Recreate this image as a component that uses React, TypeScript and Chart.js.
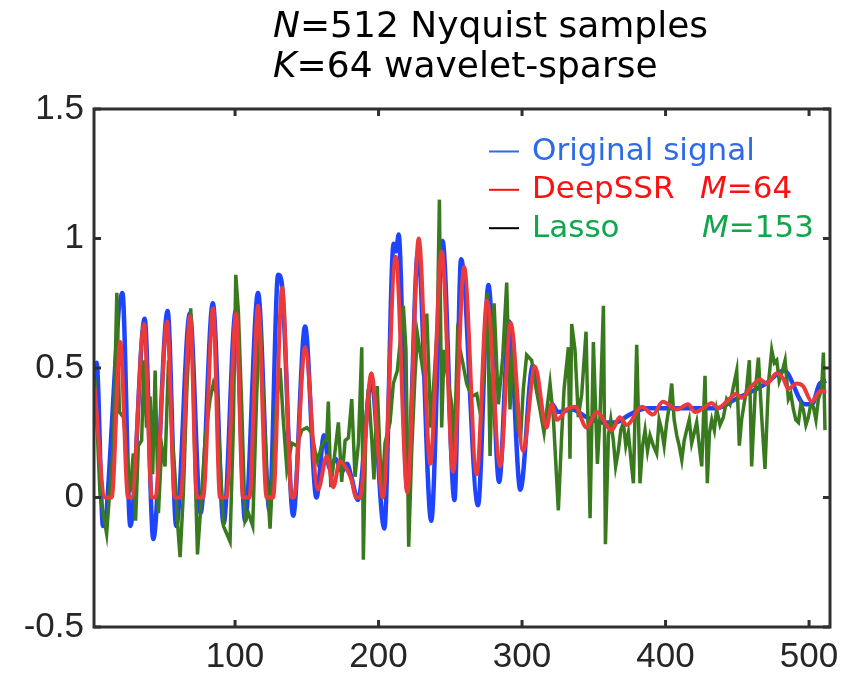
import React, { useEffect, useRef } from "react";
import { Chart, registerables } from "chart.js";
Chart.register(...registerables);

const xTickValues = [100, 200, 300, 400, 500];
const yTickValues = [-0.5, 0, 0.5, 1, 1.5];

const seriesLabels = ["Original signal", "DeepSSR", "Lasso"];

const originalX = [2, 3.5, 8, 21.5, 27, 37, 43, 53, 59, 68.5, 76, 84.5, 92, 100.5, 107, 116, 124, 130, 132.5, 140.5, 148.8, 156.7, 162, 166, 170, 174.5, 178, 181, 185.7, 195, 204, 210.5, 212.2, 214, 220, 227.5, 236.7, 244.6, 252.9, 257.5, 269.3, 276.6, 284, 291, 298.8, 307.5, 316, 321, 325, 335, 345, 355, 365, 375, 387, 436, 449, 470, 482.5, 497, 502, 507.5, 512];
const originalY = [0.45, 0.52, -0.11, 0.79, -0.11, 0.69, -0.16, 0.72, -0.11, 0.71, -0.06, 0.75, -0.1, 0.72, -0.09, 0.79, -0.05, 0.86, 0.83, -0.07, 0.66, 0.0, 0.24, 0.11, 0.15, 0.1, 0.13, 0.08, -0.01, 0.45, -0.12, 0.98, 0.95, 1.015, 0.03, 0.95, -0.09, 0.99, -0.01, 0.92, -0.03, 0.82, 0.06, 0.68, 0.03, 0.51, 0.3, 0.36, 0.33, 0.34, 0.31, 0.29, 0.29, 0.32, 0.345, 0.345, 0.38, 0.44, 0.49, 0.36, 0.36, 0.44, 0.45];

const deepX = [2, 9.5, 14, 20, 25.4, 28, 36.6, 42, 44.5, 52.6, 58, 62, 68.6, 73.5, 77.7, 84.7, 89.5, 94, 100.7, 105.6, 110, 116, 122, 126.5, 132.8, 139.5, 141, 148.8, 157.8, 164, 168.5, 173, 177.8, 181, 184.5, 187, 195, 203, 212, 220, 228, 236, 244, 252, 259.6, 268.4, 275.6, 284.7, 292, 300.7, 309, 317, 320.7, 324.4, 331, 337, 345, 352, 362.5, 368, 373, 383.4, 391.3, 398, 407.8, 415.7, 420.6, 427.5, 432, 436.6, 442.6, 449, 453, 460, 465.9, 470.5, 477.5, 482, 485.5, 491.4, 495.8, 501.9, 507.7, 512];
const deepY = [0.43, 0, 0, 0.6, 0, 0, 0.67, 0, 0, 0.68, 0, 0, 0.7, 0, 0, 0.73, 0, 0, 0.71, 0, 0, 0.74, 0, 0, 0.81, 0, 0, 0.58, 0.03, 0.16, 0.04, 0.14, 0.11, 0.07, 0, 0, 0.48, 0, 0.93, 0.02, 1.0, 0.13, 0.95, 0.1, 0.89, 0.09, 0.76, 0.12, 0.675, 0.18, 0.506, 0.27, 0.36, 0.3, 0.34, 0.35, 0.27, 0.33, 0.26, 0.31, 0.28, 0.35, 0.32, 0.37, 0.34, 0.36, 0.33, 0.35, 0.365, 0.345, 0.37, 0.4, 0.385, 0.43, 0.455, 0.44, 0.48, 0.46, 0.42, 0.44, 0.43, 0.37, 0.41, 0.41];

const lassoX = [2.4, 5.9, 10.5, 12.9, 15.2, 17.6, 19.4, 22.2, 24.5, 26.8, 29.1, 30.7, 32.6, 34.9, 36.5, 38.3, 40.8, 42.6, 44.3, 46.6, 48.9, 51.2, 53.6, 55.9, 58.2, 59.8, 61.7, 64, 66.3, 69.1, 70.5, 72.1, 73.8, 76.8, 79.1, 82.6, 84.9, 87.2, 89.5, 91.9, 94.2, 96.5, 98.8, 100.5, 102.3, 104.7, 107, 109.3, 112.3, 115.1, 117.4, 119.3, 122.1, 124.4, 126.7, 129, 131.4, 133.7, 136.1, 139.5, 143, 146.5, 150, 153.4, 155.7, 157.4, 160.4, 163.9, 165, 166.7, 169.7, 172, 174.3, 176.7, 179, 181.3, 183.6, 186, 188.3, 189.4, 191.3, 192.9, 195.2, 196.8, 199.1, 202.2, 204.5, 208, 210.3, 213.1, 215.4, 217.3, 219.1, 221, 223.1, 225.4, 227.1, 230.1, 233.6, 236.4, 239.4, 241, 242.4, 244, 245.6, 248.7, 251, 252.6, 255, 258.7, 261.4, 264.9, 268.4, 271.4, 273.5, 275.8, 277.7, 280.5, 283.5, 286.5, 289.3, 291.6, 293.9, 296.7, 299, 300.9, 303.2, 306.7, 309.1, 312.5, 315.3, 319.5, 321.8, 325.3, 327.6, 329.3, 332.3, 333.4, 334.6, 336.9, 339.2, 341.6, 344.6, 347.4, 349.7, 352.5, 354.3, 356.7, 358.1, 360.2, 361.8, 363.6, 365.2, 367.1, 368.8, 370.6, 372.3, 374.1, 375.8, 377.6, 379.9, 382.2, 384, 385.7, 387.4, 389.2, 391.5, 393.8, 395.5, 397.3, 399, 400.8, 402.5, 404.3, 406, 407.8, 409.5, 411.3, 413, 414.7, 416.5, 418.2, 420, 421.7, 423.5, 425.2, 427.5, 429.1, 430.6, 432.2, 434, 435.6, 438, 440.3, 442.6, 444.9, 447, 449.6, 451.4, 453, 454.7, 456.5, 458.4, 460, 462.4, 464.7, 467, 469.3, 471.7, 474, 475.8, 477.5, 479.2, 481, 483.3, 485.6, 487.3, 489.1, 490.8, 492.6, 494.3, 496, 497.8, 499.5, 501.2, 503, 504.8, 506.5, 508.8, 510, 511.1];
const lassoY = [0.46, 0.01, -0.14, 0.04, 0.2, 0.79, 0.33, 0.31, 0.17, 0.02, 0.17, -0.09, 0.2, 0.22, 0.53, 0.27, 0.39, 0.09, 0.49, -0.06, 0.2, 0.12, 0.53, 0.27, 0.08, -0.09, -0.23, 0.02, 0.4, 0.73, 0.53, 0.12, -0.22, 0.02, 0.22, 0.38, 0.44, 0.4, 0.15, -0.11, -0.14, -0.17, 0.27, 0.86, 0.72, 0.34, -0.09, -0.06, -0.11, 0.4, 0.71, 0.43, 0.08, -0.12, 0.15, 0.38, 0.5, 0.29, 0.11, 0.21, 0.2, 0.26, 0.27, 0.25, 0.18, 0.14, 0.2, 0.23, 0.37, 0.04, 0.18, 0.29, 0.06, 0.22, 0.23, 0.38, 0.08, 0.21, 0.58, -0.24, 0.31, 0.42, 0.23, 0.07, 0.43, 0.0, 0.21, 0.29, 0.44, 0.49, 0.62, 0.74, 0.57, -0.19, 0.18, 0.47, 0.63, 0.52, 0.71, 0.27, 0.52, 0.67, 1.15, 0.27, 0.57, 0.44, 0.36, 0.13, 0.62, 0.52, 0.44, 0.39, 0.4, 0.31, 0.51, 0.79, 0.16, 0.75, 0.36, 0.54, 0.83, 0.34, 0.62, 0.27, 0.23, 0.42, 0.55, 0.53, 0.44, 0.34, 0.25, 0.44, 0.31, -0.05, 0.24, 0.42, 0.58, 0.15, 0.67, 0.57, 0.31, 0.4, 0.64, -0.08, 0.6, 0.13, 0.31, 0.74, -0.18, 0.24, 0.3, 0.22, 0.12, 0.18, 0.26, 0.29, 0.2, 0.25, 0.15, 0.055, 0.59, 0.055, 0.2, 0.26, 0.18, 0.24, 0.2, 0.17, 0.3, 0.26, 0.2, 0.29, 0.35, 0.44, 0.3, 0.24, 0.2, 0.145, 0.22, 0.26, 0.3, 0.21, 0.25, 0.29, 0.2, 0.12, 0.47, 0.055, 0.25, 0.3, 0.26, 0.34, 0.28, 0.31, 0.38, 0.36, 0.42, 0.49, 0.2, 0.3, 0.36, 0.42, 0.53, 0.12, 0.4, 0.54, 0.31, 0.11, 0.44, 0.57, 0.52, 0.53, 0.45, 0.48, 0.53, 0.38, 0.4, 0.34, 0.3, 0.29, 0.36, 0.34, 0.28, 0.31, 0.36, 0.35, 0.3, 0.38, 0.42, 0.56, 0.26];

const toPoints = (xs: number[], ys: number[]) => xs.map((x, i) => ({ x, y: ys[i] }));

const AXIS_COLOR = "#303030";
const BLUE_LINE = "#1f44ff";
const RED_LINE = "#ec3a3c";
const GREEN_LINE = "#3a7a1e";
const BLUE_TEXT = "#2d6be6";
const RED_TEXT = "#ff1010";
const GREEN_TEXT = "#12a64c";

const boxPlugin = {
  id: "boxPlugin",
  afterDatasetsDraw(chart: any) {
    const { ctx, chartArea, scales } = chart;
    const { left, right, top, bottom } = chartArea;
    ctx.save();
    ctx.strokeStyle = AXIS_COLOR;
    ctx.lineWidth = 3;
    ctx.strokeRect(left, top, right - left, bottom - top);
    const len = 7;
    ctx.beginPath();
    xTickValues.forEach((v) => {
      const px = scales.x.getPixelForValue(v);
      ctx.moveTo(px, bottom);
      ctx.lineTo(px, bottom - len);
      ctx.moveTo(px, top);
      ctx.lineTo(px, top + len);
    });
    yTickValues.forEach((v) => {
      const py = scales.y.getPixelForValue(v);
      ctx.moveTo(left, py);
      ctx.lineTo(left + len, py);
      ctx.moveTo(right, py);
      ctx.lineTo(right - len, py);
    });
    ctx.stroke();
    ctx.restore();
  },
};

function drawParts(ctx: any, parts: { t: string; i?: boolean; c: string }[], x: number, y: number, size: number) {
  let cx = x;
  parts.forEach((p) => {
    ctx.font = `${p.i ? "italic " : ""}${size}px "DejaVu Sans"`;
    ctx.fillStyle = p.c;
    ctx.fillText(p.t, cx, y);
    cx += ctx.measureText(p.t).width;
  });
}

const textPlugin = {
  id: "textPlugin",
  afterDraw(chart: any) {
    const ctx = chart.ctx;
    ctx.save();
    ctx.textBaseline = "alphabetic";
    ctx.textAlign = "left";
    drawParts(ctx, [{ t: "N", i: true, c: "#000" }, { t: "=512 Nyquist samples", c: "#000" }], 273, 37, 36);
    drawParts(ctx, [{ t: "K", i: true, c: "#000" }, { t: "=64 wavelet-sparse", c: "#000" }], 273, 77, 36);
    const rows = [
      { base: 160, mark: BLUE_TEXT, color: BLUE_TEXT, label: seriesLabels[0], m: "", mx: 0 },
      { base: 198.3, mark: RED_TEXT, color: RED_TEXT, label: seriesLabels[1], m: "=64", mx: 700 },
      { base: 236.7, mark: "#000", color: GREEN_TEXT, label: seriesLabels[2], m: "=153", mx: 702 },
    ];
    rows.forEach((r) => {
      ctx.strokeStyle = r.mark;
      ctx.lineWidth = 2;
      ctx.beginPath();
      ctx.moveTo(489, r.base - 8.5);
      ctx.lineTo(519, r.base - 8.5);
      ctx.stroke();
      drawParts(ctx, [{ t: r.label, c: r.color }], 532, r.base, 31);
      if (r.m) {
        drawParts(ctx, [{ t: "M", i: true, c: r.color }, { t: r.m, c: r.color }], r.mx, r.base, 31);
      }
    });
    ctx.restore();
  },
};

export default function App() {
  const ref = useRef<HTMLCanvasElement>(null);
  useEffect(() => {
    if (!ref.current) return;
    const chart = new Chart(ref.current, {
      type: "scatter",
      data: {
        datasets: [
          {
            label: seriesLabels[1],
            data: toPoints(deepX, deepY),
            showLine: true,
            borderColor: RED_LINE,
            borderWidth: 4,
            pointRadius: 0,
            cubicInterpolationMode: "monotone",
            order: 0,
          },
          {
            label: seriesLabels[2],
            data: toPoints(lassoX, lassoY),
            showLine: true,
            borderColor: GREEN_LINE,
            borderWidth: 3.5,
            pointRadius: 0,
            tension: 0,
            order: 1,
          },
          {
            label: seriesLabels[0],
            data: toPoints(originalX, originalY),
            showLine: true,
            borderColor: BLUE_LINE,
            borderWidth: 4.5,
            pointRadius: 0,
            cubicInterpolationMode: "monotone",
            order: 2,
          },
        ],
      },
      options: {
        responsive: false,
        animation: false,
        devicePixelRatio: 1,
        layout: { padding: { top: 109, right: 26, left: 0, bottom: 0 } },
        plugins: { legend: { display: false }, title: { display: false }, tooltip: { enabled: false } },
        scales: {
          x: {
            type: "linear",
            min: 1.7,
            max: 514.6,
            grid: { display: false, drawTicks: false },
            border: { display: false },
            afterBuildTicks: (s: any) => {
              s.ticks = xTickValues.map((v) => ({ value: v }));
            },
            afterFit: (s: any) => {
              s.height = 48;
            },
            ticks: {
              color: "#262626",
              font: { family: "Liberation Sans", size: 35 },
              padding: 9,
              maxRotation: 0,
              autoSkip: false,
              callback: (v: any) => String(v),
            },
          },
          y: {
            type: "linear",
            min: -0.5,
            max: 1.5,
            grid: { display: false, drawTicks: false },
            border: { display: false },
            afterBuildTicks: (s: any) => {
              s.ticks = yTickValues.map((v) => ({ value: v }));
            },
            afterFit: (s: any) => {
              s.width = 94;
            },
            ticks: {
              color: "#262626",
              font: { family: "Liberation Sans", size: 35 },
              padding: 10,
              autoSkip: false,
              callback: (v: any) => String(v),
            },
          },
        },
      },
      plugins: [boxPlugin, textPlugin],
    });
    return () => chart.destroy();
  }, []);
  return (
    <div style={{ position: "absolute", left: 0, top: 0, width: 856, height: 675, background: "#fff" }}>
      <canvas ref={ref} width={856} height={675} />
    </div>
  );
}
